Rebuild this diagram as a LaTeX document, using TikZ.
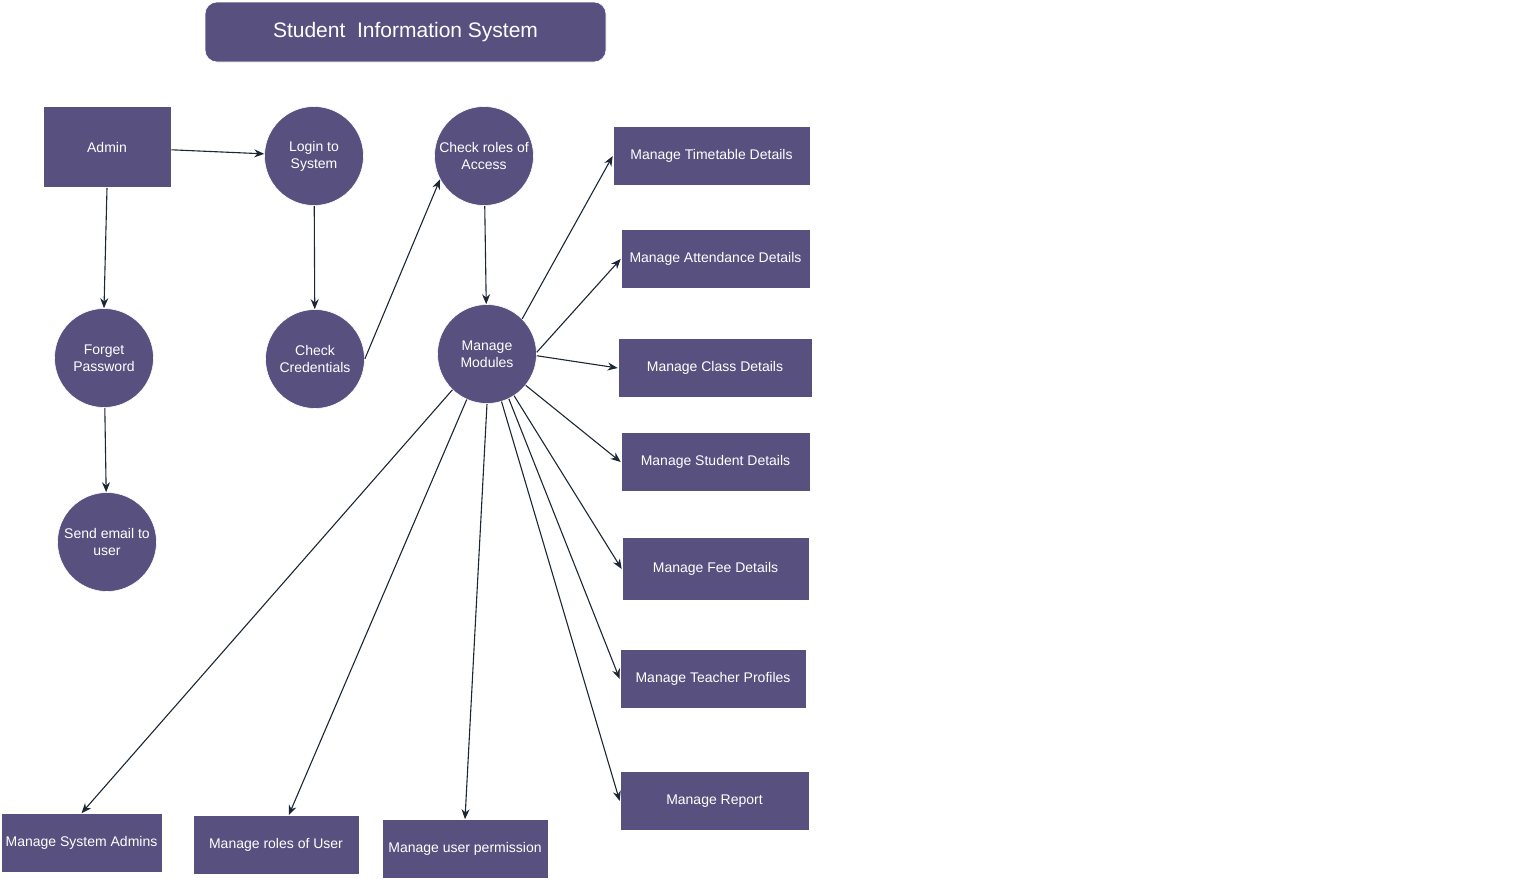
\documentclass[tikz,border=0pt]{standalone}
\usepackage{fontspec}
\setmainfont{Liberation Sans}
\usetikzlibrary{arrows.meta}
\definecolor{sisviolet}{RGB}{88,81,128}
\definecolor{sisline}{RGB}{27,39,51}
\tikzset{
  proc/.style = {circle, fill = sisviolet, draw = white, line width = .3pt, text = white, minimum size = 49.5pt, inner sep = 0pt, align = center, font = \fontsize{7}{8.4}\selectfont},
  box/.style = {rectangle, fill = sisviolet, draw = white, line width = .3pt, text = white, minimum height = 29.5pt, inner sep = 0pt, align = center, font = \fontsize{7}{8.4}\selectfont},
  flow/.style = {sisline, line width = .55pt, -{Stealth[length = 5pt, width = 4pt]}}
}
\begin{document}
\begin{tikzpicture}[x = .5pt, y = -.5pt]
        \useasboundingbox (0, 0) rectangle (1523, 879);
        \node [box, rounded corners = 6pt, minimum width = 200.5pt, minimum height = 30pt, font = \fontsize{10.5}{12.5}\selectfont] (title) at (405.5, 32) {Student\ \ Information System};
        \node [box, minimum width = 64pt, minimum height = 40.5pt] (admin) at (107, 147) {Admin};
        \node [proc] (login) at (314, 156) {Login to\\System};
        \node [proc] (roles) at (484, 156) {Check roles of\\Access};
        \node [proc] (forget) at (104, 358) {Forget\\Password};
        \node [proc] (cred) at (315, 359) {Check\\Credentials};
        \node [proc] (mm) at (487, 354) {Manage\\Modules};
        \node [proc] (send) at (107, 542) {Send email to\\user};
        \node [box, minimum width = 98.5pt] (tt) at (711.5, 156) {Manage Timetable Details};
        \node [box, minimum width = 94.5pt] (att) at (715.5, 259) {Manage Attendance Details};
        \node [box, minimum width = 97pt] (cls) at (715, 368) {Manage Class Details};
        \node [box, minimum width = 94.5pt] (stu) at (715.5, 462) {Manage Student Details};
        \node [box, minimum width = 93.5pt, minimum height = 31.5pt] (fee) at (715.5, 569) {Manage Fee Details};
        \node [box, minimum width = 93pt] (tea) at (713, 679) {Manage Teacher Profiles};
        \node [box, minimum width = 94.5pt] (rep) at (714.5, 801) {Manage Report};
        \node [box, minimum width = 80.5pt] (sysadm) at (81.5, 843) {Manage System Admins};
        \node [box, minimum width = 83pt] (urole) at (276, 845) {Manage roles of User};
        \node [box, minimum width = 83pt] (perm) at (465, 849) {Manage user permission};
        % login flow
        \draw [flow] (admin) -- (login);
        \draw [flow] (admin.south) -- (forget.north);
        \draw [flow] (forget) -- (send);
        \draw [flow] (login) -- (cred);
        \draw [flow] (cred.east) -- (roles.208);
        \draw [flow] (roles) -- (mm);
        % modules
        \draw [flow] (mm.45) -- (tt.west);
        \draw [flow] (mm.2) -- (att.west);
        \draw [flow] (mm.-2) -- (cls.west);
        \draw [flow] (mm.-39) -- (stu.west);
        \draw [flow] (mm.-57) -- (fee.west);
        \draw [flow] (mm.-64) -- (tea.west);
        \draw [flow] (mm.-73) -- (rep.west);
        \draw [flow] (mm.226) -- (sysadm.north);
        \draw [flow] (mm.246) -- (urole);
        \draw [flow] (mm.south) -- (perm.north);
    \end{tikzpicture}
\end{document}
